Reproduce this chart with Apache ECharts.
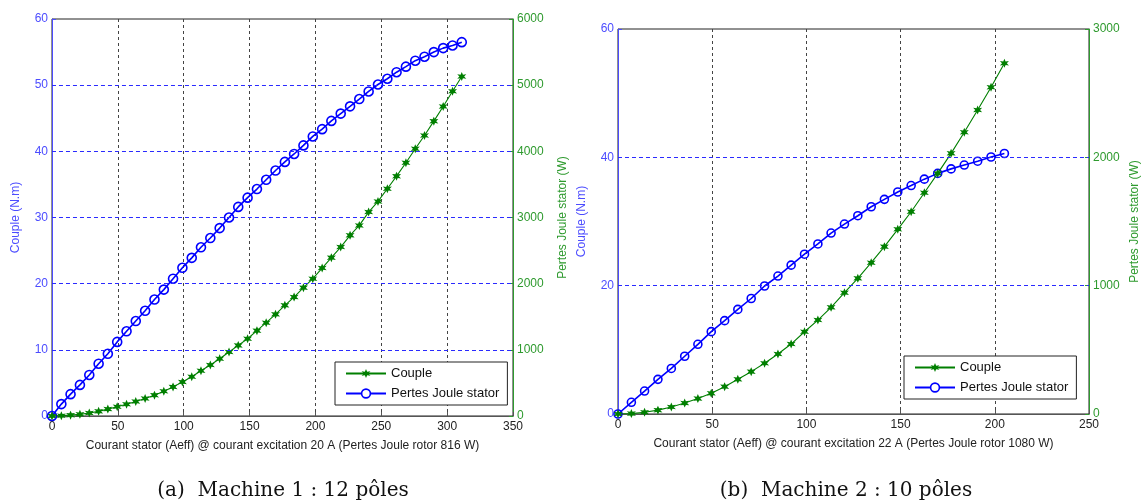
<!DOCTYPE html>
<html>
<head>
<meta charset="utf-8">
<script src="https://cdn.jsdelivr.net/npm/echarts@6/dist/echarts.min.js"></script>
<style>
html,body{margin:0;padding:0;background:#fff;}
#c{width:1142px;height:500px;}
</style>
</head>
<body>
<div id="c"></div>
<script>
// ---- data ----
const currentA = [0,7.1,14.1,21.2,28.3,35.4,42.4,49.5,56.6,63.6,70.7,77.8,84.9,91.9,99.0,106.1,113.1,120.2,127.3,134.4,141.4,148.5,155.6,162.6,169.7,176.8,183.8,190.9,198.0,205.1,212.1,219.2,226.3,233.3,240.4,247.5,254.6,261.6,268.7,275.8,282.8,289.9,297.0,304.1,311.1];
const torqueA = [0,1.8,3.3,4.7,6.2,7.9,9.4,11.2,12.8,14.35,15.9,17.6,19.1,20.75,22.4,23.9,25.5,26.9,28.4,30.0,31.6,33.0,34.3,35.7,37.1,38.4,39.6,40.9,42.25,43.35,44.6,45.7,46.8,47.9,49.05,50.1,50.97,51.96,52.8,53.7,54.3,55.0,55.6,56.0,56.5];
const lossA = [0,5,13,25,45,70,104,140,178,220,264,315,375,440,514,592,685,772,866,967,1067,1168,1290,1410,1536,1672,1797,1940,2075,2236,2393,2553,2730,2880,3082,3243,3435,3625,3828,4039,4240,4456,4678,4909,5131];

const currentB = [0,7.1,14.1,21.2,28.3,35.4,42.4,49.5,56.6,63.6,70.7,77.8,84.9,91.9,99.0,106.1,113.1,120.2,127.3,134.4,141.4,148.5,155.6,162.6,169.7,176.8,183.8,190.9,198.0,205.1];
const torqueB = [0,1.82,3.58,5.4,7.1,9.0,10.86,12.83,14.55,16.3,18.0,19.95,21.5,23.2,24.9,26.5,28.2,29.6,30.9,32.3,33.45,34.6,35.6,36.6,37.5,38.2,38.8,39.4,40.05,40.6];
const lossB = [0,3,13,30,55,85,120,161,213,270,330,395,468,545,641,732,831,945,1057,1179,1304,1439,1576,1724,1875,2031,2195,2369,2546,2733];

const xTicksA = {min:0,max:350,interval:50};
const xTicksB = {min:0,max:250,interval:50};
const yLeftA = {min:0,max:60,interval:10};
const yRightA = {min:0,max:6000,interval:1000};
const yLeftB = {min:0,max:60,interval:20};
const yRightB = {min:0,max:3000,interval:1000};
// horizontal grid lines (tick values of the left axes, inside the plot)
const hGridA = [10,20,30,40,50];
const hGridB = [20,40];

const names = ['Couple','Pertes Joule stator'];
const xNameA = 'Courant stator (Aeff) @ courant excitation 20 A (Pertes Joule rotor 816 W)';
const xNameB = 'Courant stator (Aeff) @ courant excitation 22 A (Pertes Joule rotor 1080 W)';
const yNameL = 'Couple (N.m)';
const yNameR = 'Pertes Joule stator (W)';
const captions = ['(a)  Machine 1 : 12 pôles','(b)  Machine 2 : 10 pôles'];

// ---- styling ----
const BLUE = '#0000ff', GREEN = '#007f00';
const LBLUE = '#4c4cff', LGREEN = '#2e9a2e';
const FONT = 'Liberation Sans, Arial, sans-serif';
const SERIF = 'DejaVu Serif, Liberation Serif, serif';
const GRIDBLUES = ['#2a2aff','#2b2aff','#2a2bff','#2a2afe','#2b2bff','#2c2aff'];
const plain = v => String(v);

function starPath(){
  let pts=[];
  for(let k=0;k<12;k++){
    const a=Math.PI/2 + k*Math.PI/6;
    const r=(k%2===0)?10:4.6;
    pts.push((10+r*Math.cos(a)).toFixed(2)+' '+(10-r*Math.sin(a)).toFixed(2));
  }
  return 'path://M'+pts.join(' L')+' Z';
}
const STAR = starPath();

const grids = [
  {left:52, top:19, width:461, height:397},
  {left:618, top:29, width:473, height:385}
];

function xAxis(gi, ticks, name){
  return {
    type:'value', gridIndex:gi, min:ticks.min, max:ticks.max, interval:ticks.interval,
    name:name, nameLocation:'middle', nameGap:24,
    nameTextStyle:{color:'#222', fontFamily:FONT, fontSize:12},
    axisLine:{lineStyle:{color:'#555', width:1}},
    axisTick:{inside:true, length:4, lineStyle:{color:'#555'}},
    axisLabel:{color:'#222', fontFamily:FONT, fontSize:12, margin:5, formatter:plain},
    splitLine:{show:true, lineStyle:{color:'#444', type:[3,3], width:1}}
  };
}
function yLeft(gi, ticks){
  return {
    type:'value', gridIndex:gi, position:'left', min:ticks.min, max:ticks.max, interval:ticks.interval,
    name:yNameL, nameLocation:'middle', nameGap:30,
    nameTextStyle:{color:LBLUE, fontFamily:FONT, fontSize:12},
    axisLine:{show:true, lineStyle:{color:LBLUE, width:1}},
    axisTick:{show:true, inside:true, length:4, lineStyle:{color:LBLUE}},
    axisLabel:{color:LBLUE, fontFamily:FONT, fontSize:12, margin:4, formatter:plain},
    splitLine:{show:false}
  };
}
function yRight(gi, ticks, gap){
  return {
    type:'value', gridIndex:gi, position:'right', min:ticks.min, max:ticks.max, interval:ticks.interval,
    name:yNameR, nameLocation:'middle', nameGap:gap, nameRotate:90,
    nameTextStyle:{color:LGREEN, fontFamily:FONT, fontSize:12},
    axisLine:{show:true, lineStyle:{color:LGREEN, width:1}},
    axisTick:{show:true, inside:true, length:4, lineStyle:{color:LGREEN}},
    axisLabel:{color:LGREEN, fontFamily:FONT, fontSize:12, margin:4, formatter:plain},
    splitLine:{show:false}
  };
}
function pairs(xs, ys){ return xs.map((x,i)=>[x, ys[i]]); }

function blueSeries(xi, yi, xs, ys, size, hgrid){
  return {
    name:names[1], type:'line', xAxisIndex:xi, yAxisIndex:yi, data:pairs(xs,ys),
    symbol:'circle', symbolSize:size, showSymbol:true, animation:false,
    lineStyle:{color:BLUE, width:1.6},
    itemStyle:{color:'rgba(255,255,255,0)', borderColor:BLUE, borderWidth:1.6},
    markLine:{
      silent:true, symbol:'none', animation:false, label:{show:false},
      lineStyle:{color:'#2a2aff', type:[4,3], width:1},
      emphasis:{disabled:true},
      data:hgrid.map((v,i)=>({yAxis:v, lineStyle:{color:GRIDBLUES[i], type:[4,3], dashOffset:i*0.01, width:1}}))
    },
    z:2
  };
}
function greenSeries(xi, yi, xs, ys, size){
  return {
    name:names[0], type:'line', xAxisIndex:xi, yAxisIndex:yi, data:pairs(xs,ys),
    symbol:STAR, symbolSize:size, showSymbol:true, animation:false,
    lineStyle:{color:GREEN, width:1.1},
    itemStyle:{color:GREEN, borderWidth:0},
    z:3
  };
}

function legend(left, top){
  return {
    left:left, top:top, orient:'vertical',
    data:[
      {name:names[0], itemStyle:{color:GREEN, borderWidth:0}},
      {name:names[1], itemStyle:{color:'#fff', borderColor:BLUE, borderWidth:1.6}}
    ],
    backgroundColor:'#fff', borderColor:'#222', borderWidth:1,
    padding:[5,8,5,10], itemGap:7, itemWidth:40, itemHeight:11,
    textStyle:{color:'#111', fontFamily:FONT, fontSize:13},
    selectedMode:false, z:10
  };
}

const chart = echarts.init(document.getElementById('c'), null, {renderer:'canvas'});
chart.setOption({
  animation:false,
  backgroundColor:'#fff',
  title:[
    {text:captions[0], left:278, top:476, textAlign:'center',
      textStyle:{fontFamily:SERIF, fontSize:20, fontWeight:'normal', color:'#111'}},
    {text:captions[1], left:841, top:476, textAlign:'center',
      textStyle:{fontFamily:SERIF, fontSize:20, fontWeight:'normal', color:'#111'}}
  ],
  grid: grids.map(g=>Object.assign({show:true, borderColor:'#222', borderWidth:1, backgroundColor:'#fff'}, g)),
  legend:[legend(335,362), legend(904,356)],
  xAxis:[xAxis(0,xTicksA,xNameA), xAxis(1,xTicksB,xNameB)],
  yAxis:[yLeft(0,yLeftA), yRight(0,yRightA,44), yLeft(1,yLeftB), yRight(1,yRightB,40)],
  series:[
    blueSeries(0,0,currentA,torqueA,9,hGridA),
    greenSeries(0,1,currentA,lossA,9),
    blueSeries(1,2,currentB,torqueB,8,hGridB),
    greenSeries(1,3,currentB,lossB,9)
  ]
});
</script>
</body>
</html>
